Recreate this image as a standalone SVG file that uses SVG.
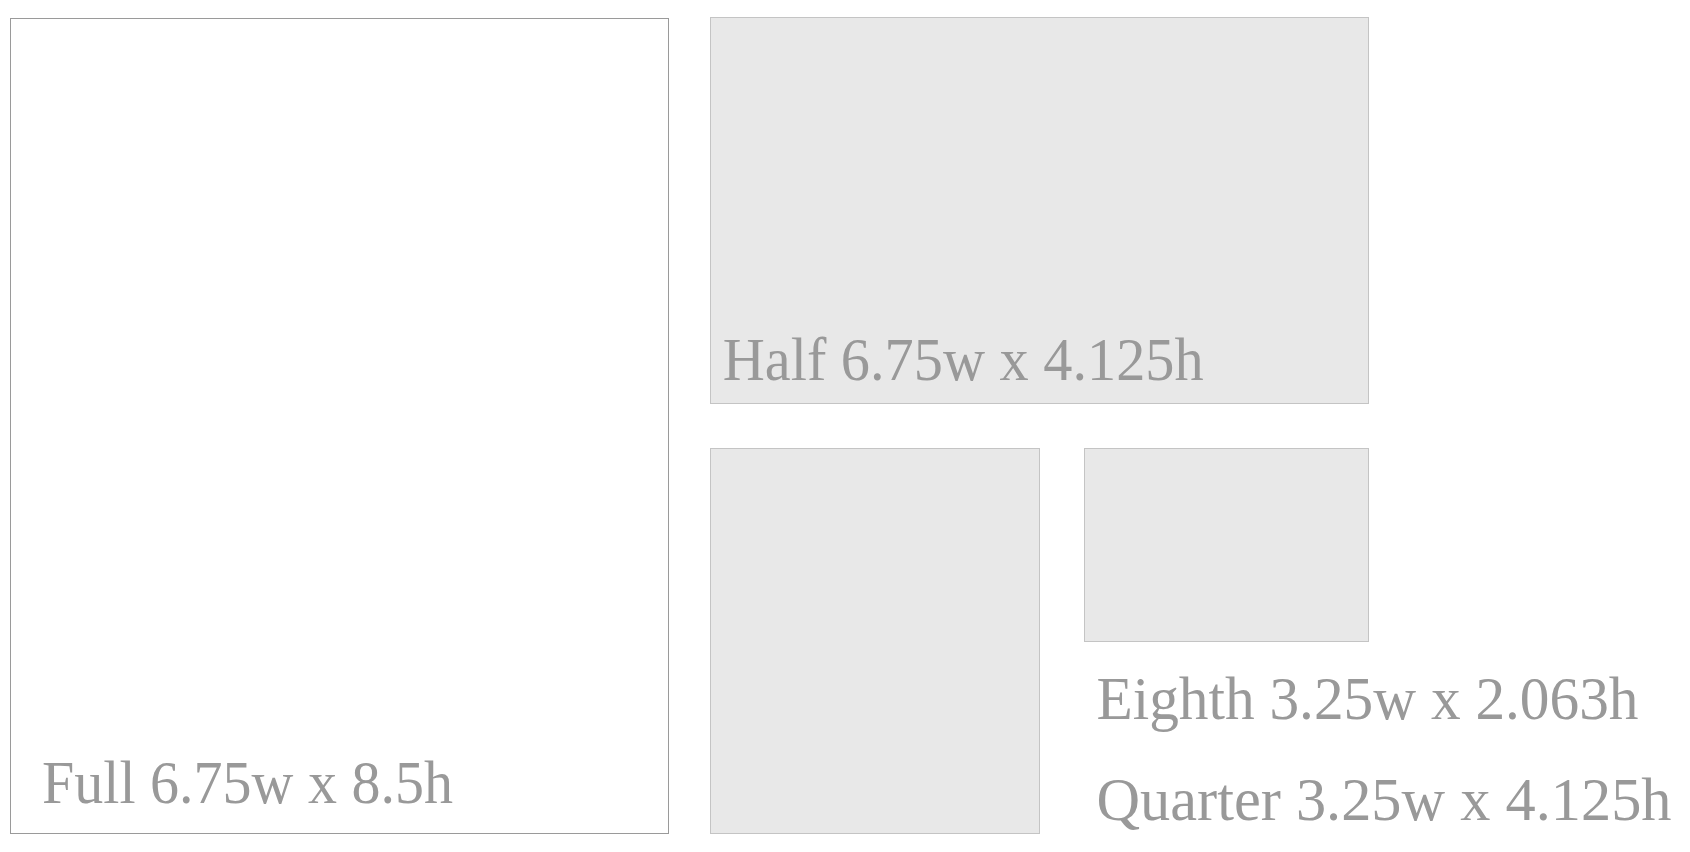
<svg xmlns="http://www.w3.org/2000/svg" width="1690" height="852" viewBox="0 0 1690 852">
<style>
.box{fill:#e8e8e8;stroke:#c4c4c4;stroke-width:1}
.full{fill:#ffffff;stroke:#9a9a9a;stroke-width:1}
.lbl{font-family:"Liberation Serif","DejaVu Serif",serif;font-size:62px;fill:#999999}
</style>
<rect width="1690" height="852" fill="#ffffff"/>
<g id="full">
<rect class="full" x="10.5" y="18.5" width="658" height="815"/>
<text class="lbl" x="42" y="803.3" textLength="411" lengthAdjust="spacingAndGlyphs">Full 6.75w x 8.5h</text>
</g>
<g id="half">
<rect class="box" x="710.5" y="17.5" width="658" height="386"/>
<text class="lbl" x="722.7" y="380" textLength="481" lengthAdjust="spacingAndGlyphs">Half 6.75w x 4.125h</text>
</g>
<g id="quarter">
<rect class="box" x="710.5" y="448.5" width="329" height="385"/>
</g>
<g id="eighth">
<rect class="box" x="1084.5" y="448.5" width="284" height="193"/>
</g>
<g id="labels">
<text class="lbl" x="1096.5" y="718.5" textLength="542" lengthAdjust="spacingAndGlyphs">Eighth 3.25w x 2.063h</text>
<text class="lbl" x="1096.5" y="820" textLength="575" lengthAdjust="spacingAndGlyphs">Quarter 3.25w x 4.125h</text>
</g>
<g id="connectors"/>
</svg>
